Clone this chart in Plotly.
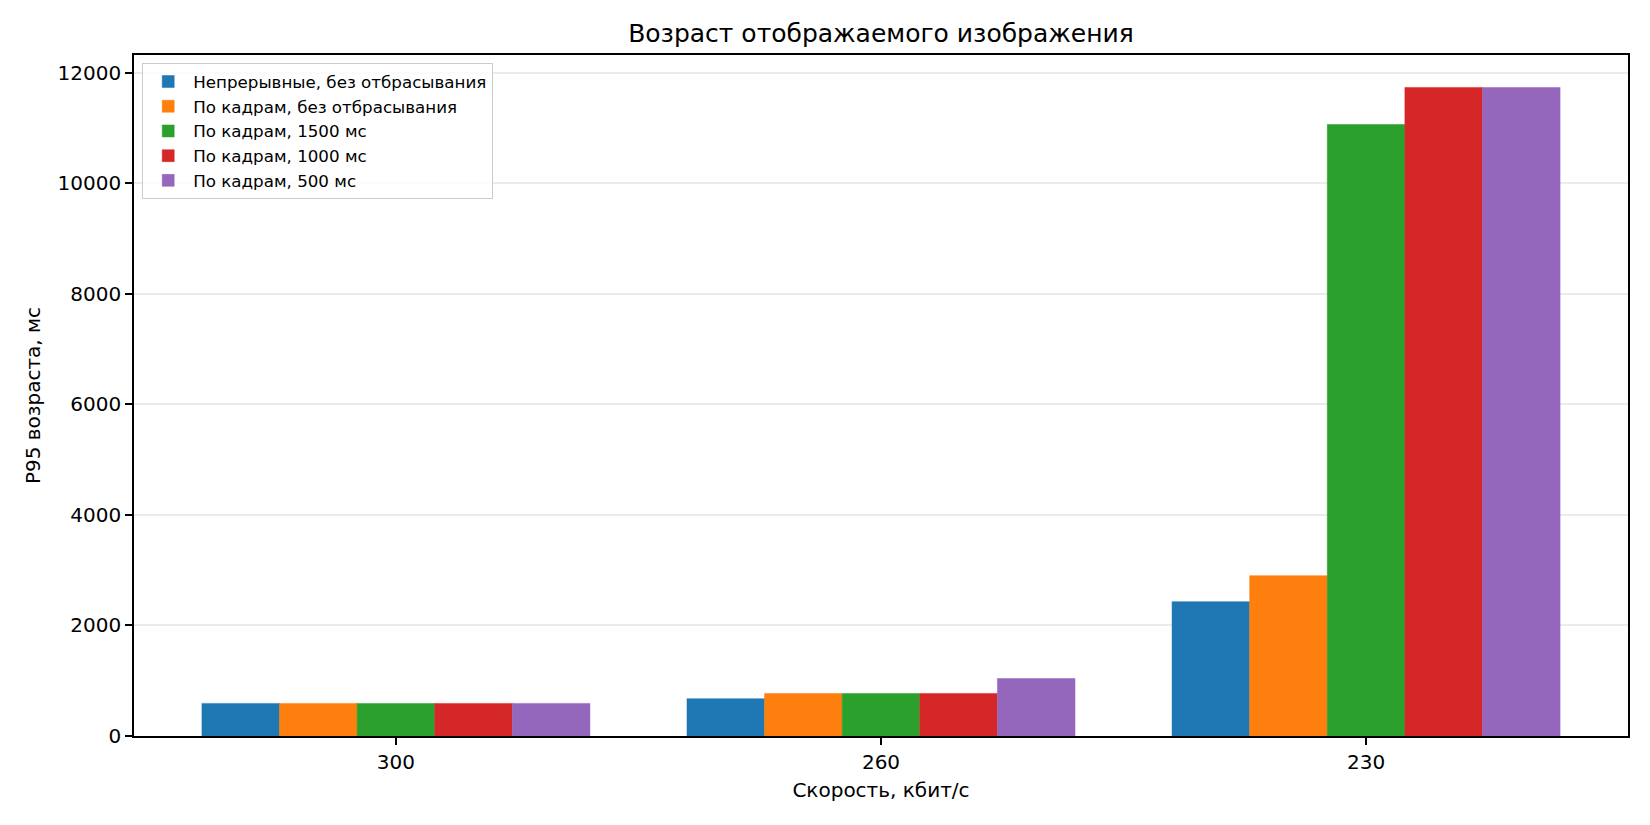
import plotly.graph_objects as go

# ----------------------------------------------------------------------------------------------------------------------
#  DATA
# ----------------------------------------------------------------------------------------------------------------------
speeds = ["300", "260", "230"]

series_names = [
    "Непрерывные, без отбрасывания",
    "По кадрам, без отбрасывания",
    "По кадрам, 1500 мс",
    "По кадрам, 1000 мс",
    "По кадрам, 500 мс",
]

continuous_no_drop = [590, 675, 2430]
frames_no_drop     = [590, 770, 2900]
frames_1500        = [590, 770, 11060]
frames_1000        = [590, 770, 11730]
frames_500         = [590, 1040, 11730]

y_ticks = [0, 2000, 4000, 6000, 8000, 10000, 12000]

colors = ["#1f77b4", "#ff7f0e", "#2ca02c", "#d62728", "#9467bd"]

# ----------------------------------------------------------------------------------------------------------------------
#  PLOT
# ----------------------------------------------------------------------------------------------------------------------
font_family = "DejaVu Sans"
all_series = [continuous_no_drop, frames_no_drop, frames_1500, frames_1000, frames_500]

fig = go.Figure()
for name, values, color in zip(series_names, all_series, colors):
    fig.add_trace(go.Bar(x=speeds, y=values, name=name,
                         marker=dict(color=color, line=dict(color=color, width=0.5))))

y_max = max(max(s) for s in all_series) * 1.05

fig.update_layout(
    width=1650, height=825,
    margin=dict(l=134, r=22, t=55, b=89),
    paper_bgcolor="white", plot_bgcolor="white",
    font=dict(family=font_family, color="black", size=20),
    barmode="group", bargap=0.2, bargroupgap=0,
    title=dict(text="Возраст отображаемого изображения",
               x=0.5, xref="paper", xanchor="center",
               y=1 - 33 / 825, yref="container", yanchor="middle",
               font=dict(size=25, family=font_family)),
    legend=dict(x=0.0055, y=0.988, xanchor="left", yanchor="top",
                bgcolor="rgba(255,255,255,0.8)", bordercolor="#cccccc", borderwidth=1,
                font=dict(size=16.7, family=font_family),
                tracegroupgap=2, itemwidth=40),
    showlegend=True,
)

fig.update_xaxes(
    type="category", categoryorder="array", categoryarray=speeds,
    range=[-0.54, 2.54],
    showline=True, linecolor="black", linewidth=1.6, mirror=True,
    ticks="outside", ticklen=7, tickwidth=1.6, tickcolor="black",
    showgrid=False,
    title=dict(text="Скорость, кбит/с", standoff=10, font=dict(size=20)),
    tickfont=dict(size=20),
)

fig.update_yaxes(
    range=[0, y_max],
    tickvals=y_ticks, ticktext=[str(v) for v in y_ticks],
    showline=True, linecolor="black", linewidth=1.6, mirror=True,
    ticks="outside", ticklen=7, tickwidth=1.6, tickcolor="black",
    showgrid=True, gridcolor="rgba(128,128,128,0.16)", gridwidth=1.6,
    zeroline=False, layer="above traces",
    title=dict(text="P95 возраста, мс", standoff=12, font=dict(size=20)),
    tickfont=dict(size=20),
)

fig.write_html("out.html", config={"displayModeBar": False},
               post_script="document.body.style.margin='0';")
